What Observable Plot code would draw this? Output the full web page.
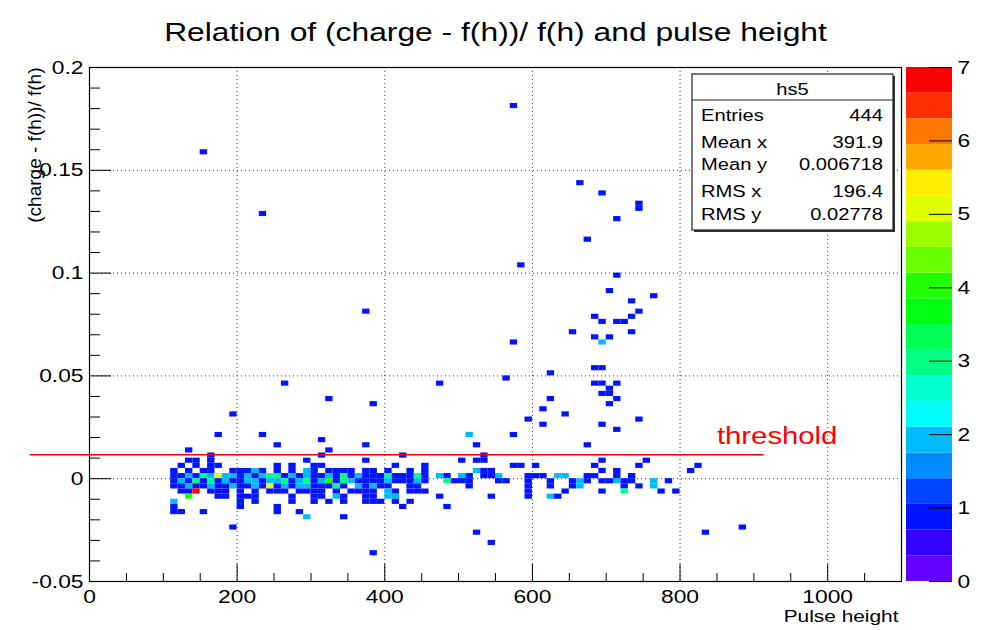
<!DOCTYPE html>
<html>
<head>
<meta charset="utf-8">
<script src="https://cdn.jsdelivr.net/npm/d3@7"></script>
<script src="https://cdn.jsdelivr.net/npm/@observablehq/plot@0.6"></script>
<style>
  body { margin: 0; background: #fff; }
  #chart { position: relative; width: 983px; height: 630px; overflow: hidden; }
  #chart svg { position: absolute; top: 0; }
</style>
</head>
<body>
<div id="chart"></div>
<script>
// ---------- texts ----------
const chartTitle = "Relation of (charge - f(h))/ f(h) and pulse height";
const xLabel = "Pulse height";
const yLabel = "(charge - f(h))/ f(h)";
const thresholdLabel = "threshold";

// ---------- axes ----------
const xDomain = [0, 1100];
const yDomain = [-0.05, 0.2];
const xTicks = [0, 200, 400, 600, 800, 1000];
const yTicks = [-0.05, 0, 0.05, 0.1, 0.15, 0.2];
const xGrid = [200, 400, 600, 800, 1000];
const yGrid = [0, 0.05, 0.1, 0.15];
const countTicks = [0, 1, 2, 3, 4, 5, 6, 7];

// ---------- histogram binning ----------
const binWidthX = 10;
const binWidthY = 0.0025;

// ---------- colour palette (20 contour levels, 0..7) ----------
const paletteLevels = [0.35, 0.7, 1.05, 1.4, 1.75, 2.1, 2.45, 2.8, 3.15, 3.5, 3.85, 4.2, 4.55, 4.9, 5.25, 5.6, 5.95, 6.3, 6.65];
const paletteColors = ["#6300ff", "#3300ff", "#0014ff", "#0044ff", "#008bff", "#00bbff", "#00fffc", "#00ffcc", "#00ff85", "#00ff55",
                       "#00ff0e", "#22ff00", "#69ff00", "#99ff00", "#e0ff00", "#ffed00", "#ffa700", "#ff7700", "#ff3000", "#ff0000"];
const paletteMax = 7;

// ---------- threshold ----------
const thresholdValue = 0.0117;
const thresholdFrom = -80;
const thresholdTo = 914;
const thresholdLabelAt = [850, 0.0205];

// ---------- statistics box ----------
const statsName = "hs5";
const statsLabels = ["Entries", "Mean x", "Mean y", "RMS x", "RMS y"];
const statsValues = ["444", "391.9", "0.006718", "196.4", "0.02778"];

// ---------- dense band: lower bin edge of ratio, then [pulse height bin edge, count] ----------
const bandRowY = [0.01, 0.0075, 0.005, 0.0025, 0, -0.0025, -0.005, -0.0075, -0.01, -0.0125, -0.015, -0.0175, -0.02, -0.025, -0.0275, -0.0325, -0.0375];
const bandRowCells = [
  [[160,1],[310,1],[420,1],[530,1]],
  [[130,1],[140,1],[160,1],[290,1],[370,1],[500,1],[520,1],[530,1],[690,1],[750,1]],
  [[120,1],[140,1],[160,1],[170,1],[250,1],[270,1],[300,1],[310,1],[410,1],[450,1],[570,1],[580,1],[600,1],[680,1],[740,1],[820,1]],
  [[110,1],[130,1],[150,1],[160,1],[190,1],[200,1],[210,1],[220,2],[230,1],[250,1],[270,1],[290,2],[300,1],[320,1],[330,1],[340,1],[350,1],[370,1],[380,1],[400,1],[430,1],[450,1],[520,2],[530,1],[540,1],[690,1],[710,1],[810,1]],
  [[110,1],[120,1],[130,2],[140,1],[150,3],[160,2],[170,5],[180,2],[190,2],[200,1],[210,2],[220,1],[230,2],[240,3],[250,3],[260,1],[270,2],[280,1],[290,2],[300,1],[310,1],[320,2],[330,1],[340,3],[350,1],[360,2],[370,1],[380,1],[390,1],[400,3],[410,1],[420,1],[430,1],[440,3],[450,1],[470,2],[480,1],[500,2],[510,1],[530,1],[540,1],[550,2],[590,1],[600,1],[610,1],[630,2],[640,2],[670,1],[680,1],[710,1],[730,1]],
  [[110,1],[120,2],[130,1],[140,3],[150,1],[160,3],[170,1],[180,2],[190,1],[200,1],[210,2],[220,2],[230,1],[240,2],[250,2],[260,3],[270,1],[280,2],[290,3],[300,1],[310,2],[320,4],[330,1],[340,3],[350,2],[360,1],[370,1],[380,1],[390,1],[400,2],[410,1],[420,1],[430,1],[440,2],[450,1],[480,3],[490,1],[500,1],[510,1],[550,1],[560,1],[590,1],[620,1],[650,1],[660,2],[670,1],[690,1],[700,1],[710,2],[720,1],[730,1],[760,2],[780,1]],
  [[110,1],[120,1],[130,2],[140,1],[150,1],[160,2],[170,1],[180,1],[190,2],[200,1],[210,1],[220,2],[230,1],[240,5],[250,1],[260,2],[270,1],[280,2],[290,2],[300,1],[310,1],[320,1],[330,3],[340,1],[360,2],[370,1],[380,2],[390,1],[400,1],[430,1],[440,1],[510,1],[590,1],[620,1],[650,1],[660,2],[720,1],[740,1],[760,2]],
  [[120,1],[130,1],[140,7],[160,1],[170,1],[180,1],[200,1],[220,1],[240,1],[250,1],[260,1],[280,1],[290,1],[300,1],[310,1],[330,1],[350,1],[360,1],[370,1],[380,1],[400,2],[410,1],[430,1],[440,1],[450,1],[590,1],[640,1],[690,1],[720,3],[770,1],[790,1]],
  [[130,4],[170,1],[180,1],[200,1],[210,1],[220,1],[270,1],[300,1],[310,1],[330,2],[340,1],[370,1],[380,1],[400,2],[410,2],[470,1],[540,1],[590,1],[620,2],[630,1]],
  [[110,2],[200,1],[220,1],[270,1],[300,1],[320,1],[340,1],[370,1],[380,1],[390,1],[410,1],[430,1]],
  [[110,1],[200,1],[250,1],[420,1],[480,1]],
  [[110,1],[120,1],[150,1],[250,1],[280,1]],
  [[290,2],[340,1]],
  [[190,1],[880,1]],
  [[520,1],[830,1]],
  [[540,1]],
  [[380,1]]
];

// ---------- scattered cells above the band: [pulse height bin edge, ratio bin edge, count] ----------
const sparseCells = [
  [130,0.0125,1],[320,0.0125,1],
  [250,0.015,1],[370,0.015,1],[520,0.015,1],[670,0.015,1],
  [310,0.0175,1],
  [170,0.02,1],[230,0.02,1],[510,0.02,2],[570,0.02,1],
  [710,0.0225,1],
  [610,0.025,1],[690,0.025,1],
  [590,0.0275,1],[740,0.0275,1],
  [190,0.03,1],[640,0.03,1],
  [610,0.0325,1],
  [380,0.035,1],[700,0.035,1],
  [320,0.0375,1],[620,0.0375,1],[710,0.0375,1],
  [690,0.04,1],[700,0.04,1],
  [700,0.0425,1],
  [260,0.045,1],[470,0.045,1],[680,0.045,1],[690,0.045,1],[710,0.045,1],
  [560,0.0475,1],
  [620,0.05,1],
  [680,0.0525,1],[690,0.0525,1],
  [570,0.065,1],[690,0.065,2],
  [680,0.0675,1],[700,0.0675,1],
  [650,0.07,1],[730,0.07,1],
  [690,0.075,1],[710,0.075,1],[720,0.075,1],
  [680,0.0775,1],[730,0.0775,1],
  [370,0.08,1],[740,0.08,1],
  [730,0.085,1],
  [760,0.0875,1],
  [700,0.09,1],
  [710,0.0975,1],
  [580,0.1025,1],
  [670,0.115,1],
  [710,0.125,1],
  [230,0.1275,1],
  [740,0.13,1],[740,0.1325,1],
  [690,0.1375,1],
  [660,0.1425,1],
  [150,0.1575,1],
  [570,0.18,1]
];

// ---------- assemble the table for the marks ----------
const cells = [];
bandRowY.forEach((y, r) => bandRowCells[r].forEach(([x, n]) => cells.push({x, y, n})));
sparseCells.forEach(([x, y, n]) => cells.push({x, y, n}));

const paletteBands = paletteColors.map((c, k) => {
  const lo = k === 0 ? 0 : paletteLevels[k - 1];
  const hi = k === paletteLevels.length ? paletteMax : paletteLevels[k];
  return {lo, hi, mid: (lo + hi) / 2};
});

// ---------- layout ----------
const W = 983, H = 630;
const M = {top: 67, right: 82, bottom: 49, left: 89};
const frameW = W - M.left - M.right;
const frameH = H - M.top - M.bottom;
const FONT = "'Liberation Sans', Arial, Helvetica, sans-serif";
const STRETCH = 1.2;

const xMinor = d3.range(50, 1100, 50).filter(v => v % 200 !== 0);
const yMinor = d3.range(-4, 20).map(k => k / 100).filter(v => Math.abs(v * 20 - Math.round(v * 20)) > 1e-6);
const yMajor = yTicks;

const color = {type: "threshold", domain: paletteLevels, range: paletteColors};
const fmt = d => String(+d.toFixed(3));

const main = Plot.plot({
  width: W, height: H,
  marginTop: M.top, marginRight: M.right, marginBottom: M.bottom, marginLeft: M.left,
  style: {fontFamily: FONT, fontSize: "18px", color: "black", background: "transparent"},
  x: {domain: xDomain, label: null},
  y: {domain: yDomain, label: null},
  color,
  marks: [
    Plot.gridX(xGrid, {stroke: "#222", strokeOpacity: 0.9, strokeDasharray: "1,3"}),
    Plot.gridY(yGrid, {stroke: "#222", strokeOpacity: 0.9, strokeDasharray: "1,3"}),
    Plot.rect(cells, {x1: "x", x2: d => d.x + binWidthX, y1: "y", y2: d => d.y + binWidthY, fill: "n"}),
    Plot.tickX(xMinor, {x: d => d, insetTop: frameH - 8, stroke: "black"}),
    Plot.tickX(xTicks, {x: d => d, insetTop: frameH - 17, stroke: "black"}),
    Plot.tickY(yMinor, {y: d => d, insetRight: frameW - 11, stroke: "black"}),
    Plot.tickY(yMajor, {y: d => d, insetRight: frameW - 22, stroke: "black"}),
    Plot.frame({stroke: "black", strokeWidth: 1.2}),
    Plot.axisX(xTicks, {tickSize: 0, tickPadding: 8, fontSize: 19, tickFormat: fmt, label: null}),
    Plot.axisY(yTicks, {tickSize: 0, tickPadding: 6, fontSize: 19, tickFormat: fmt, label: null}),
    Plot.ruleY([thresholdValue], {x1: thresholdFrom, x2: thresholdTo, stroke: "#ff0000", strokeWidth: 1.5, clip: false}),
    Plot.text([thresholdLabel], {x: thresholdLabelAt[0], y: thresholdLabelAt[1], textAnchor: "start", fill: "#ff0000", fontSize: 24.4}),
    Plot.text([chartTitle], {frameAnchor: "top", dy: -45, fontSize: 26.5, fill: "black"}),
    Plot.text([yLabel], {frameAnchor: "top-left", rotate: -90, textAnchor: "end", dx: -62, fontSize: 19, fill: "black"}),
    Plot.text([xLabel], {frameAnchor: "bottom-right", textAnchor: "end", dx: -3, dy: 40, fontSize: 17.4, fill: "black"})
  ]
});

const bar = Plot.plot({
  width: 83, height: H,
  marginTop: M.top, marginBottom: M.bottom, marginLeft: 6, marginRight: 31,
  style: {fontFamily: FONT, fontSize: "18px", color: "black", background: "transparent"},
  x: {axis: null},
  y: {domain: [0, paletteMax], label: null, axis: null},
  color,
  marks: [
    Plot.rect(paletteBands, {y1: "lo", y2: "hi", fill: "mid"}),
    Plot.tickY(countTicks, {y: d => d, insetLeft: 23, stroke: "black"}),
    Plot.axisY(countTicks, {anchor: "right", tickSize: 0, tickPadding: 5, fontSize: 19, tickFormat: d => String(d), label: null})
  ]
});

const host = document.getElementById("chart");
main.style.left = "0px";
bar.style.left = "900px";
host.appendChild(main);
host.appendChild(bar);

// ---------- statistics box (drawn into the main svg) ----------
const svg = d3.select(main);
const box = {x: 692, y: 74, w: 201, h: 156, head: 26};
const g = svg.append("g").attr("font-family", FONT).attr("font-size", 16.8).attr("fill", "black");
g.append("rect").attr("x", box.x + 2).attr("y", box.y + 2).attr("width", box.w).attr("height", box.h).attr("fill", "#333");
g.append("rect").attr("x", box.x).attr("y", box.y).attr("width", box.w).attr("height", box.h).attr("fill", "white").attr("stroke", "#222").attr("stroke-width", 1.2);
g.append("line").attr("x1", box.x).attr("x2", box.x + box.w).attr("y1", box.y + box.head).attr("y2", box.y + box.head).attr("stroke", "#222").attr("stroke-width", 1.2);
g.append("text").attr("text-anchor", "middle").attr("transform", `translate(${box.x + box.w / 2},${box.y + 21})`).text(statsName);
const rowBase = [120.5, 147.5, 170, 197, 220];
statsLabels.forEach((lab, i) => {
  g.append("text").attr("text-anchor", "start").attr("transform", `translate(${box.x + 9},${rowBase[i]})`).text(lab);
  g.append("text").attr("text-anchor", "end").attr("transform", `translate(${box.x + box.w - 10},${rowBase[i]})`).text(statsValues[i]);
});

// ---------- widen glyphs horizontally like the reference rendering ----------
[main, bar].forEach(s => s.querySelectorAll("text").forEach(t => {
  const tr = t.getAttribute("transform");
  if (tr && !tr.includes("rotate")) t.setAttribute("transform", tr + ` scale(${STRETCH},1)`);
}));
</script>
</body>
</html>
